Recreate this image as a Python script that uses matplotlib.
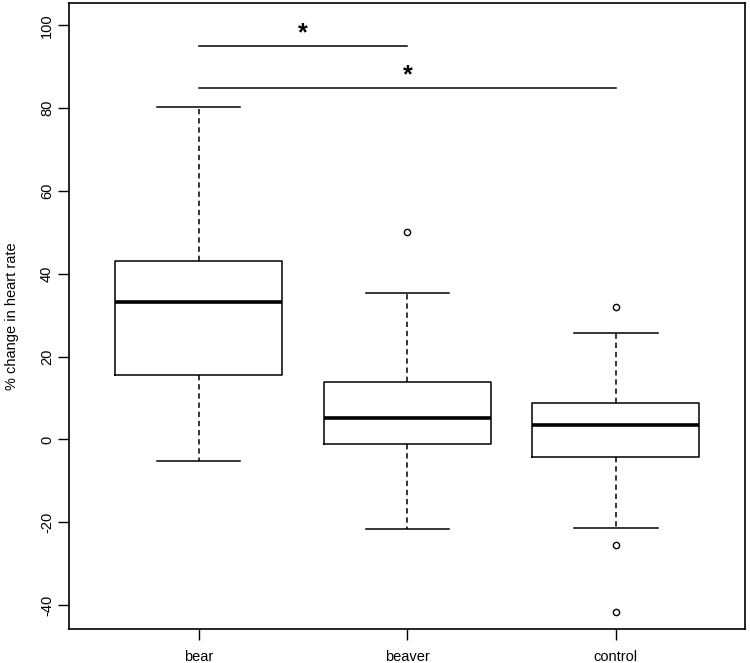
import matplotlib
matplotlib.use("Agg")
import matplotlib.pyplot as plt

plt.rcParams['font.family'] = ['Liberation Sans', 'DejaVu Sans']
plt.rcParams['axes.unicode_minus'] = False

groups = ['bear', 'beaver', 'control']
whislo = [-5.2, -21.7, -21.3]
q1 = [15.6, -1.1, -4.2]
med = [33.2, 5.1, 3.5]
q3 = [43.0, 13.8, 8.8]
whishi = [80.4, 35.4, 25.7]
fliers = [[], [50.0], [31.9, -25.5, -41.8]]

# significance brackets: (from group, to group, y of line, label)
sig_from = [1, 1]
sig_to = [2, 3]
sig_y = [95, 85]
sig_label = ['*', '*']

stats = []
for i, g in enumerate(groups):
    stats.append({'label': g, 'whislo': whislo[i], 'q1': q1[i], 'med': med[i],
                  'q3': q3[i], 'whishi': whishi[i], 'fliers': fliers[i]})

fig = plt.figure(figsize=(7.5, 6.63), dpi=100)
ax = fig.add_axes([0.0924, 0.0513, 0.9013, 0.9446])

lw = 1.1
ax.bxp(stats, positions=[1, 2, 3], widths=0.8, patch_artist=False,
       boxprops=dict(color='black', linewidth=lw),
       medianprops=dict(color='black', linewidth=2.6, solid_capstyle='butt'),
       whiskerprops=dict(color='black', linewidth=lw, linestyle=(0, (3.5, 2.5))),
       capprops=dict(color='black', linewidth=lw),
       capwidths=0.4,
       flierprops=dict(marker='o', markersize=4.5, markerfacecolor='white',
                       markeredgecolor='black', markeredgewidth=1.0))

for a, b, y, s in zip(sig_from, sig_to, sig_y, sig_label):
    ax.plot([a, b], [y, y], color='black', linewidth=lw)
    ax.text((a + b) / 2, y + 3.0, s, ha='center', va='center', fontsize=18,
            fontweight='bold')

ax.set_xlim(0.38, 3.62)
ax.set_ylim(-45.8, 105.5)
ax.set_yticks([-40, -20, 0, 20, 40, 60, 80, 100])
ax.set_xticks([1, 2, 3])
ax.set_xticklabels(groups)
ax.tick_params(axis='both', direction='out', length=8, width=1.0, labelsize=10.5)
ax.tick_params(axis='y', labelrotation=90, pad=3)
for t in ax.get_yticklabels():
    t.set_va('center')
ax.tick_params(axis='x', pad=7)
ax.set_ylabel('% change in heart rate', fontsize=10.5, labelpad=15)
for sp in ax.spines.values():
    sp.set_linewidth(1.2)

fig.savefig('out.png', dpi=100)
